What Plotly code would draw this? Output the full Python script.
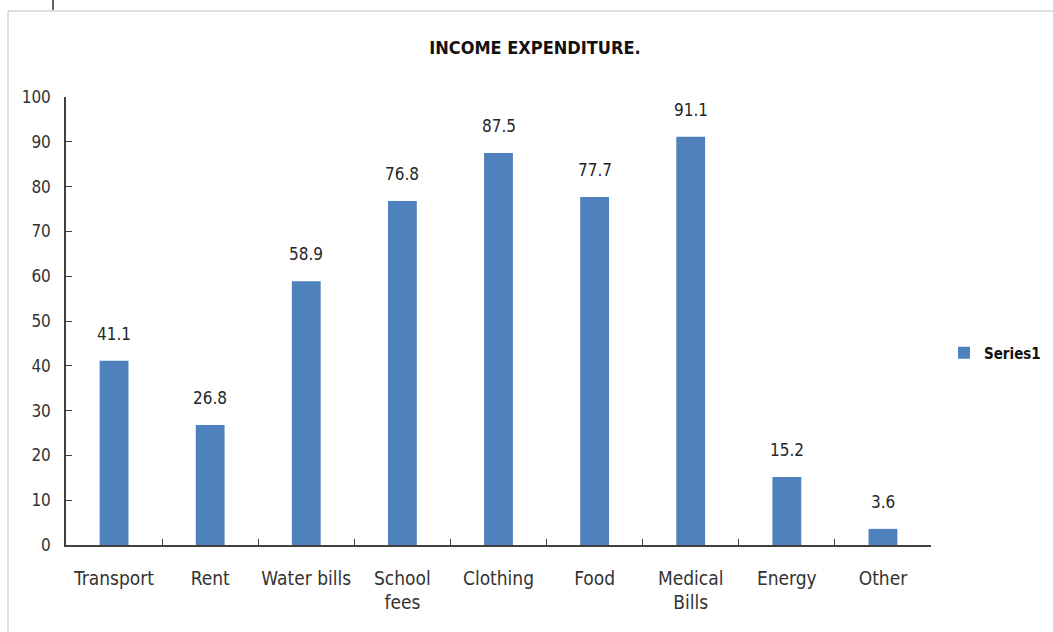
import plotly.graph_objects as go

# Spending categories and their values
categories = ["Transport", "Rent", "Water bills", "School<br>fees", "Clothing",
              "Food", "Medical<br>Bills", "Energy", "Other"]
values = [41.1, 26.8, 58.9, 76.8, 87.5, 77.7, 91.1, 15.2, 3.6]
y_ticks = list(range(0, 101, 10))

W, H = 1053, 632
ML, MR, MT, MB = 66, 122, 97, 87
PW, PH = W - ML - MR, H - MT - MB

FONT = "DejaVu Sans Condensed, Liberation Sans Narrow, Arial Narrow, sans-serif"
BAR = "#4F81BD"
AXIS = "#404040"


def px_x(p):
    return (p - ML) / PW


def px_y(p):
    return (H - MB - p) / PH


fig = go.Figure()
fig.add_trace(go.Bar(
    x=categories, y=values, name="Series1",
    marker=dict(color=BAR, line=dict(width=0)),
))

# value labels above each bar
for c, v in zip(categories, values):
    fig.add_annotation(x=c, y=v, text=f"{v:.1f}", showarrow=False,
                       yanchor="bottom", yshift=15,
                       font=dict(family=FONT, size=17, color="#262626"))

# chart frame
fig.add_shape(type="line", xref="paper", yref="paper",
              x0=px_x(8), x1=px_x(8), y0=px_y(11), y1=px_y(H + 5),
              line=dict(color="#d4d4d4", width=1.5))
fig.add_shape(type="line", xref="paper", yref="paper",
              x0=px_x(8), x1=px_x(W + 5), y0=px_y(11), y1=px_y(11),
              line=dict(color="#d4d4d4", width=1.5))
fig.add_shape(type="line", xref="paper", yref="paper",
              x0=px_x(53), x1=px_x(53), y0=px_y(0), y1=px_y(10),
              line=dict(color="#333333", width=1.5))

fig.update_layout(
    width=W, height=H,
    margin=dict(l=ML, r=MR, t=MT, b=MB, autoexpand=False),
    paper_bgcolor="white", plot_bgcolor="white",
    bargap=0.7,
    title=dict(text="<b>INCOME EXPENDITURE.</b>", x=0.508, xanchor="center",
               y=1 - 48 / H, yanchor="middle",
               font=dict(family=FONT, size=18, color="#111111")),
    showlegend=True,
    legend=dict(x=px_x(944), y=px_y(353), xanchor="left", yanchor="middle",
                font=dict(family=FONT, size=15, color="#111111", weight="bold"),
                itemwidth=30, bgcolor="rgba(0,0,0,0)"),
    xaxis=dict(showline=True, linecolor=AXIS, linewidth=1.5, automargin=False,
               tickangle=0,
               ticks="inside", ticklen=6, tickcolor=AXIS, tickwidth=1,
               tickson="boundaries", showgrid=False, ticklabelstandoff=15,
               tickfont=dict(family=FONT, size=19, color="#333333")),
    yaxis=dict(range=[0, 100], tickvals=y_ticks, showline=True, linecolor=AXIS,
               automargin=False,
               linewidth=1.5, ticks="inside", ticklen=6, tickcolor=AXIS,
               tickwidth=1, showgrid=False, zeroline=False, ticklabelstandoff=10,
               tickfont=dict(family=FONT, size=17, color="#333333")),
)

fig.write_html("out.html")
